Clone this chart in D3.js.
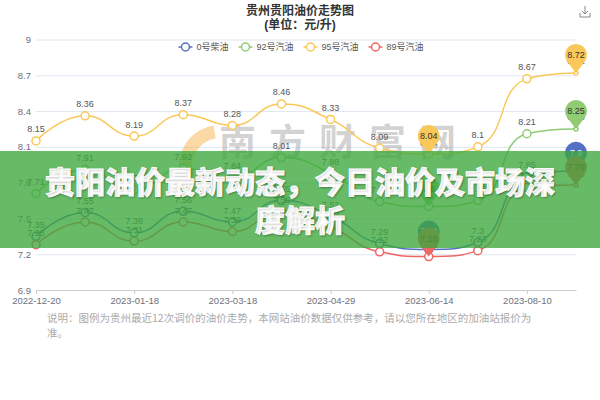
<!DOCTYPE html>
<html><head><meta charset="utf-8">
<script src="https://cdn.jsdelivr.net/npm/d3@7"></script>
<style>
body{margin:0;background:#fff}
svg{display:block;font-family:"Liberation Sans","Noto Sans CJK SC",sans-serif}
</style>
</head><body>
<svg id="c" width="600" height="400"></svg>
<script>
// ---- data ----
const dates = ["2022-12-20","2023-01-04","2023-01-18","2023-02-17","2023-03-18","2023-04-04",
               "2023-04-29","2023-05-16","2023-06-14","2023-07-12","2023-08-10","2023-08-24"];
const xLabelDates = ["2022-12-20","2023-01-18","2023-03-18","2023-04-29","2023-06-14","2023-08-10"];
const seriesNames = ["0号柴油","92号汽油","95号汽油","89号汽油"];
const diesel0 = [7.35,7.55,7.38,7.56,7.47,7.65,7.52,7.29,7.24,7.30,7.85,7.90];
const gas92   = [7.71,7.91,7.74,7.92,7.84,8.01,7.88,7.64,7.60,7.65,8.21,8.25];
const gas95   = [8.15,8.36,8.19,8.37,8.28,8.46,8.33,8.09,8.04,8.10,8.67,8.72];
const gas89   = [7.28,7.47,7.31,7.47,7.39,7.56,7.43,7.22,7.18,7.23,7.76,7.78];
const yTicks  = [6.9,7.2,7.5,7.8,8.1,8.4,8.7,9.0];
const colors  = ["#5470c6","#91cc75","#fac858","#ee6666"];
const titleText = "贵州贵阳油价走势图";
const subTitleText = "(单位：元/升)";
const bannerLines = ["贵阳油价最新动态，今日油价及市场深","度解析"];
const noteLines = ["说明：图例为贵州最近12次调价的油价走势，本网站油价数据仅供参考，请以您所在地区的加油站报价为","准。"];

const seriesData = [diesel0, gas92, gas95, gas89];

const svg = d3.select("#c");
const x = d3.scalePoint().domain(dates).range([36,576]);
const y = d3.scaleLinear().domain([6.9,9]).range([290,39.5]);
const fmt = d3.format("~g");

// ---- title ----
svg.append("text").attr("x",300).attr("y",15).attr("text-anchor","middle")
  .attr("font-size",12).attr("font-weight","bold").attr("fill","#333").text(titleText);
svg.append("text").attr("x",300).attr("y",29).attr("text-anchor","middle")
  .attr("font-size",12).attr("font-weight","bold").attr("fill","#333").text(subTitleText);

// download icon
const dl = svg.append("g").attr("transform","translate(585,12)").attr("fill","none")
  .attr("stroke","#888").attr("stroke-width",1);
dl.append("path").attr("d","M-5,1 V5 H5 V1");
dl.append("path").attr("d","M0,-6 V2 M-3,-1 L0,2 L3,-1");

// ---- y grid ----
const gy = svg.append("g").attr("transform","translate(36,0)")
  .call(d3.axisLeft(y).tickValues(yTicks).tickSize(-540).tickPadding(5).tickFormat(fmt));
gy.select(".domain").remove();
gy.selectAll(".tick line").attr("stroke","#E0E6F1");
gy.selectAll(".tick text").attr("fill","#6E7079").style("font-size","9.5px")
  .style("font-family","Liberation Sans, sans-serif");

// ---- watermark ----
const wm = svg.append("g");
wm.append("path")
  .attr("d", d3.arc()({innerRadius:28,outerRadius:41,startAngle:-Math.PI*0.62,endAngle:-Math.PI*0.05}))
  .attr("transform","translate(220,166)")
  .attr("fill","rgba(245,165,40,0.42)");
wm.append("text").attr("x",219).attr("y",156).attr("font-size",37).attr("font-weight","bold")
  .attr("letter-spacing",13).attr("fill","rgba(140,140,140,0.38)")
  .style("font-family","Noto Sans CJK SC").text("南方财富网");

// ---- x axis ----
const gx = svg.append("g").attr("transform","translate(0,290)")
  .call(d3.axisBottom(x).tickValues(xLabelDates).tickSize(4).tickSizeOuter(0).tickPadding(3));
gx.select(".domain").attr("stroke","#ccc");
gx.selectAll(".tick line").attr("stroke","#ccc");
gx.selectAll(".tick text").attr("fill","#6E7079").style("font-size","9.5px")
  .style("font-family","Liberation Sans, sans-serif");

// ---- ECharts-like smooth path ----
function smoothPath(pts, smooth){
  let d = "", prevX, prevY, cpx0, cpy0, cpx1, cpy1;
  const n = pts.length;
  for(let i=0;i<n;i++){
    const [px,py] = pts[i];
    if(i===0){ d += `M${px},${py}`; cpx0=px; cpy0=py; }
    else{
      let nextCpx0, nextCpy0;
      if(i===n-1){ cpx1=px; cpy1=py; }
      else{
        const [nx,ny] = pts[i+1];
        let vx = nx-prevX, vy = ny-prevY;
        const dx0=px-prevX, dx1=nx-px, dy0=py-prevY, dy1=ny-py;
        const lp=Math.sqrt(dx0*dx0+dy0*dy0), ln=Math.sqrt(dx1*dx1+dy1*dy1);
        const r = ln/(ln+lp);
        nextCpx0 = px + vx*smooth*r; nextCpy0 = py + vy*smooth*r;
        nextCpx0 = Math.min(nextCpx0, Math.max(nx,px)); nextCpy0 = Math.min(nextCpy0, Math.max(ny,py));
        nextCpx0 = Math.max(nextCpx0, Math.min(nx,px)); nextCpy0 = Math.max(nextCpy0, Math.min(ny,py));
        vx = nextCpx0-px; vy = nextCpy0-py;
        cpx1 = px - vx*lp/ln; cpy1 = py - vy*lp/ln;
        cpx1 = Math.min(cpx1, Math.max(prevX,px)); cpy1 = Math.min(cpy1, Math.max(prevY,py));
        cpx1 = Math.max(cpx1, Math.min(prevX,px)); cpy1 = Math.max(cpy1, Math.min(prevY,py));
        vx = px-cpx1; vy = py-cpy1;
        nextCpx0 = px + vx*ln/lp; nextCpy0 = py + vy*ln/lp;
      }
      d += `C${cpx0},${cpy0},${cpx1},${cpy1},${px},${py}`;
      cpx0 = nextCpx0; cpy0 = nextCpy0;
    }
    prevX=px; prevY=py;
  }
  return d;
}

// ---- series ----
const plot = svg.append("g");
seriesData.forEach((vals,s)=>{
  const pts = vals.map((v,i)=>[x(dates[i]), y(v)]);
  plot.append("path").attr("d", smoothPath(pts,0.5)).attr("fill","none")
    .attr("stroke",colors[s]).attr("stroke-width",1.5);
});
seriesData.forEach((vals,s)=>{
  const g = plot.append("g");
  g.selectAll("circle").data(vals).join("circle")
    .attr("cx",(v,i)=>x(dates[i])).attr("cy",v=>y(v))
    .attr("r",(v,i)=> i===vals.length-1 ? 2 : 4)
    .attr("fill","#fff").attr("stroke",colors[s]).attr("stroke-width",1.5);
  g.selectAll("text").data(vals).join("text")
    .attr("x",(v,i)=>x(dates[i])).attr("y",v=>y(v)-8.5)
    .attr("text-anchor","middle").attr("font-size",9).attr("fill","#555")
    .text(v=>fmt(v));
});

// ---- markPoint pins (max / min) ----
const pinPath = "M0,0 L-8.7,-11.2 A11,11 0 1 1 8.7,-11.2 Z";
const pinText = ["#fff","#333","#333","#333"];
seriesData.forEach((vals,s)=>{
  const mx = d3.maxIndex(vals), mn = d3.minIndex(vals);
  [mx,mn].forEach(i=>{
    const g = plot.append("g").attr("transform",`translate(${x(dates[i])},${y(vals[i])})`);
    g.append("path").attr("d",pinPath).attr("fill",colors[s]);
    g.append("text").attr("y",-15).attr("text-anchor","middle").attr("font-size",9)
      .attr("fill",pinText[s]).text(fmt(vals[i]));
  });
});

// ---- legend ----
const lg = svg.append("g").attr("transform","translate(0,47)");
let items = [];
seriesNames.forEach((name,s)=>{
  const g = lg.append("g");
  g.append("line").attr("x1",0).attr("x2",14).attr("y1",0).attr("y2",0)
    .attr("stroke",colors[s]).attr("stroke-width",1.5);
  g.append("circle").attr("cx",7).attr("cy",0).attr("r",4).attr("fill","#fff")
    .attr("stroke",colors[s]).attr("stroke-width",1.5);
  const t = g.append("text").attr("x",18).attr("y",3.2).attr("font-size",9).attr("fill","#555").text(name);
  const w = 18 + t.node().getComputedTextLength();
  items.push({g,w});
});
const total = d3.sum(items,d=>d.w) + 10*(items.length-1);
let start = 301 - total/2;
items.forEach(it=>{ it.g.attr("transform",`translate(${start},0)`); start += it.w + 10; });

// ---- note ----
const note = svg.append("text").attr("font-size",10.5).attr("fill","#aaa")
  .style("font-family","Noto Sans CJK SC");
noteLines.forEach((l,i)=>note.append("tspan").attr("x",47).attr("y",322+i*15).text(l));

// ---- banner overlay ----
svg.append("rect").attr("x",0).attr("y",151).attr("width",600).attr("height",97)
  .attr("fill","rgba(60,168,60,0.78)");
const bt = svg.append("g").style("font-family","Noto Sans CJK SC");
bannerLines.forEach((l,i)=>{
  bt.append("text").attr("x",300).attr("y",193+i*38).attr("text-anchor","middle")
    .attr("font-size",30).attr("font-weight",900).attr("fill","#fff")
    .attr("stroke","#fff").attr("stroke-width",0.9)
    .style("text-shadow","1px 1px 2px rgba(0,0,0,0.25)").text(l);
});
</script>
</body></html>
